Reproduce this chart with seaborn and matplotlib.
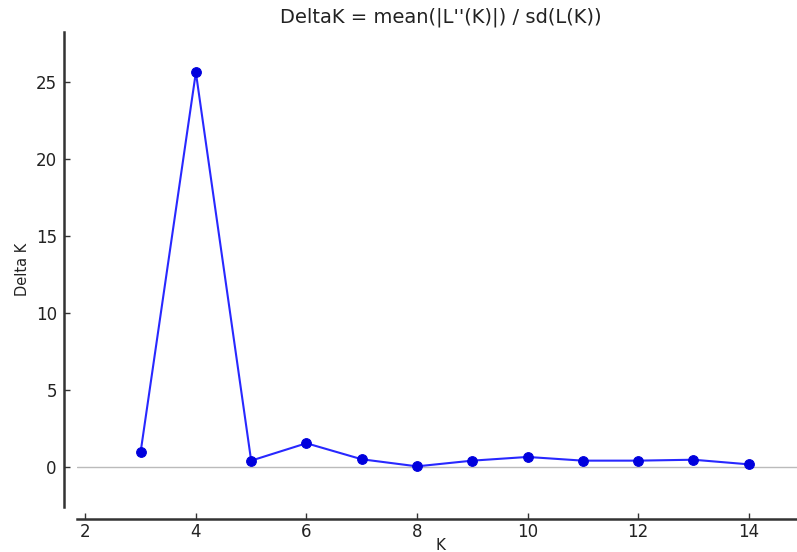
import matplotlib
matplotlib.use("Agg")
import matplotlib.pyplot as plt
import seaborn as sns
import pandas as pd

K_values = [3, 4, 5, 6, 7, 8, 9, 10, 11, 12, 13, 14]
delta_k = [0.93, 25.6, 0.39, 1.52, 0.48, 0.02, 0.39, 0.63, 0.39, 0.39, 0.45, 0.15]
x_ticks = [2, 4, 6, 8, 10, 12, 14]
y_ticks = [0, 5, 10, 15, 20, 25]

sns.set_theme(style="ticks")
plt.rcParams['font.family'] = ['DejaVu Sans']

df = pd.DataFrame({"K": K_values, "Delta K": delta_k})

fig = plt.figure(figsize=(7.97, 5.52), dpi=100)
W, H = 797, 552
ax_h = 506.7 - 32.3
ax = fig.add_axes([77 / W, (H - 506.7) / H, (804 - 77) / W, ax_h / H])

ax.axhline(0, color="#bbbbbb", lw=1, zorder=1)
sns.lineplot(data=df, x="K", y="Delta K", ax=ax, color="#2828ff", lw=1.5,
             marker="o", markersize=7, markerfacecolor="#0000dd",
             markeredgecolor="#0000dd", zorder=3)

ax.set_xlim(1.85, 15)
ax.set_ylim(-2.6, 28.2)
ax.set_xticks(x_ticks)
ax.set_yticks(y_ticks)
ax.tick_params(direction="in", length=4, width=1, labelsize=12, colors="#333333",
               labelcolor="#222222", pad=5)
ax.tick_params(axis="x", pad=3)
for side in ["top", "right"]:
    ax.spines[side].set_visible(False)
ax.spines["left"].set_position(("outward", 9.5))
ax.spines["bottom"].set_position(("outward", 9))
for side in ["left", "bottom"]:
    ax.spines[side].set_linewidth(1.8)
    ax.spines[side].set_color("#333333")

ax.set_xlabel("K", fontsize=11, color="#222222")
ax.xaxis.set_label_coords(0.5, -(538 - 506.7) / ax_h)
ax.set_ylabel("Delta K", fontsize=10.5, color="#222222")
ax.set_title("DeltaK = mean(|L''(K)|) / sd(L(K))", fontsize=14, color="#222222", pad=7)

fig.savefig("out.png", dpi=100)
